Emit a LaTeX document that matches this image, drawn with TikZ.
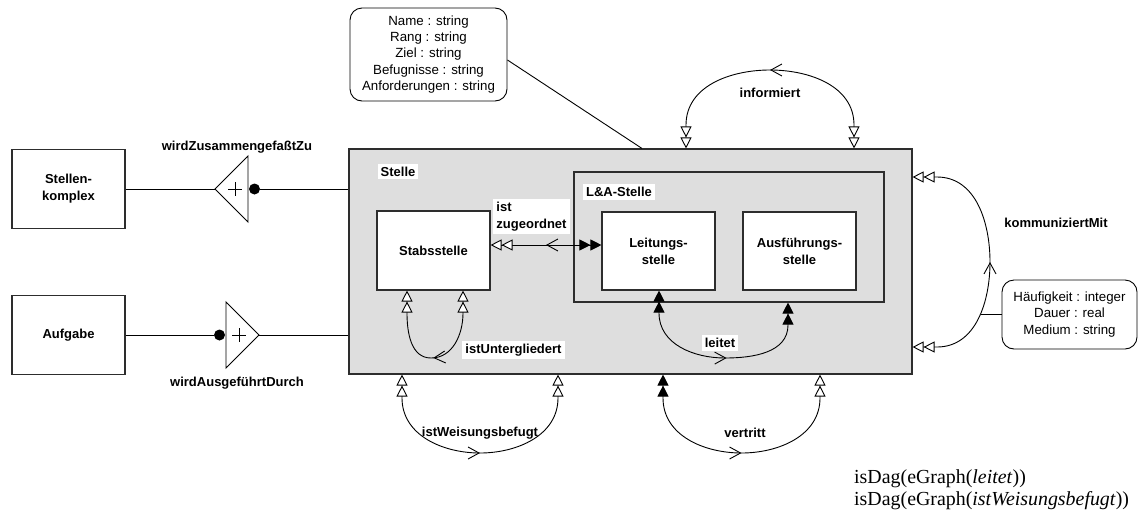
\documentclass[tikz,border=0pt]{standalone}
\usepackage{fontspec}
\setmainfont{Liberation Sans}
\newfontfamily\constrfont{Liberation Serif}
\usetikzlibrary{arrows.meta,decorations.markings}

\definecolor{stellegray}{RGB}{222,222,222}
\definecolor{frame}{RGB}{45,45,45}

\begin{document}
\begin{tikzpicture}[x=1pt,y=1pt,
  lbl/.style={font=\fontsize{13}{17}\selectfont\bfseries, inner sep=3pt},
  wlbl/.style={lbl, fill=white},
  entity/.style={draw=frame, line width=1.1pt, fill=white, inner sep=0pt, align=center,
    minimum width=113pt, minimum height=79pt, font=\fontsize{13}{17}\selectfont\bfseries},
  attrbox/.style={draw, line width=0.9pt, rounded corners=12pt, fill=white, align=center,
    font=\fontsize{13.3}{16.3}\selectfont, inner sep=0pt},
  conn/.style={line width=0.9pt},
  constr/.style={anchor=base west, inner sep=0pt, font=\constrfont\fontsize{19.9}{22}\selectfont},
  ww/.style={{Triangle[length=11pt,width=11pt,fill=white]Triangle[length=11pt,width=11pt,fill=white]}-{Triangle[length=11pt,width=11pt,fill=white]Triangle[length=11pt,width=11pt,fill=white]}},
  bw/.style={{Triangle[length=11pt,width=11pt]Triangle[length=11pt,width=11pt]}-{Triangle[length=11pt,width=11pt,fill=white]Triangle[length=11pt,width=11pt,fill=white]}},
  bb/.style={{Triangle[length=11pt,width=11pt]Triangle[length=11pt,width=11pt]}-{Triangle[length=11pt,width=11pt]Triangle[length=11pt,width=11pt]}},
  midarrow/.style={postaction={decorate, decoration={markings,
    mark=at position #1 with {\arrow{Straight Barb[length=11pt,width=12pt]}}}}},
]
\useasboundingbox (0,0) rectangle (1142,-509);

% outer classes
\node[entity] (skomplex) at (68.5,-189) {Stellen-\\komplex};
\node[entity] (aufgabe) at (68.5,-335) {Aufgabe};

% Stelle with its sub classes
\node[draw=frame, line width=1.1pt, fill=stellegray, minimum width=563pt, minimum height=225pt, inner sep=0pt] (stelle) at (630.5,-261.5) {};
\node[draw=frame, line width=1.1pt, fill=stellegray, minimum width=310pt, minimum height=130pt, inner sep=0pt] (la) at (729,-237) {};
\node[entity] (stab) at (433.5,-250.5) {Stabsstelle};
\node[entity, minimum height=78pt] (leit) at (658.5,-251) {Leitungs-\\stelle};
\node[entity, minimum height=78pt] (ausf) at (799.5,-251) {Ausführungs-\\stelle};

\node[wlbl] (stellelbl) at (398,-171.5) {Stelle};
\node[wlbl] (lalbl) at (619,-192) {L\&A-Stelle};
\node[wlbl, align=left] (zuglbl) at (531.5,-216.5) {ist\\zugeordnet};
\node[wlbl] (untlbl) at (513.5,-350) {istUntergliedert};
\node[wlbl] (leitlbl) at (720,-343) {leitet};

% attribute boxes
\node[attrbox, minimum width=157pt, minimum height=93pt] (attrS) at (428.5,-54.5)
  {Name : string\\Rang : string\\Ziel : string\\Befugnisse : string\\Anforderungen : string};
\node[attrbox, minimum width=135pt, minimum height=69pt] (attrK) at (1069.5,-314.5)
  {Häufigkeit : integer\\Dauer : real\\Medium : string};
\draw[conn] ([yshift=-5.5pt]attrS.east) -- (stelle.north -| 642,0);

% aggregation wirdZusammengefasstZu
\coordinate (t1tip) at (215,-189);
\draw[conn, fill=white] (t1tip) -- (248,-156) -- (248,-222) -- cycle;
\draw[conn] (228,-189) -- (242,-189) (235,-182) -- (235,-196);
\node[circle, fill, inner sep=0pt, minimum size=11pt] (c1) at (254.5,-189) {};
\draw[conn] (skomplex.east) -- (t1tip);
\draw[conn] (c1.east) -- (stelle.west |- c1);
\node[lbl] (zuslbl) at (237,-147) {wirdZusammengefaßtZu};

% aggregation wirdAusgefuehrtDurch
\coordinate (t2tip) at (259,-335);
\draw[conn, fill=white] (226,-302) -- (t2tip) -- (226,-368) -- cycle;
\draw[conn] (232,-335) -- (246,-335) (239,-328) -- (239,-342);
\node[circle, fill, inner sep=0pt, minimum size=11pt] (c2) at (219.5,-335) {};
\draw[conn] (aufgabe.east) -- (c2.west);
\draw[conn] (t2tip) -- (stelle.west |- t2tip);
\node[lbl] (auslbl) at (237,-383) {wirdAusgeführtDurch};

% informiert
\draw[conn, ww, midarrow=0.5] (stelle.north -| 854,0) -- (854,-125)
  to[out=90,in=0] (770,-70) to[out=180,in=90] (686,-125) -- (stelle.north -| 686,0);
\node[lbl] (inflbl) at (770,-93) {informiert};

% kommuniziertMit
\draw[conn, ww, midarrow=0.5] (stelle.east |- 0,-347) -- (937,-347)
  to[out=0,in=-90] (990,-262) to[out=90,in=0] (937,-177) -- (stelle.east |- 0,-177);
\node[lbl] (komlbl) at (1056,-223) {kommuniziertMit};
\coordinate (kc) at (981,-314);
\draw[conn] (kc) -- (attrK.west |- kc);

% ist zugeordnet
\coordinate (zy) at (0,-245);
\draw[conn, bw, midarrow=0.5] (leit.west |- zy) -- (stab.east |- zy);

% istUntergliedert
\draw[conn, ww, midarrow=0.5] (stab.south -| 463,0) -- (463,-313)
  to[out=-90,in=0] (431,-358) to[out=180,in=-90] (407,-313) -- (stab.south -| 407,0);

% leitet
\draw[conn, bb, midarrow=0.53] (leit.south -| 659,0) -- (659,-313)
  to[out=-90,in=180] (725,-358) to[out=0,in=-90] (788,-325) -- (la.south -| 788,0);

% istWeisungsbefugt
\draw[conn, ww, midarrow=0.5] (stelle.south -| 402,0) -- (402,-398)
  to[out=-90,in=180] (480,-453) to[out=0,in=-90] (558,-398) -- (stelle.south -| 558,0);
\node[lbl] (weislbl) at (480,-433) {istWeisungsbefugt};

% vertritt
\draw[conn, bw, midarrow=0.5] (stelle.south -| 663,0) -- (663,-398)
  to[out=-90,in=180] (741.5,-453) to[out=0,in=-90] (820,-398) -- (stelle.south -| 820,0);
\node[lbl] (vertlbl) at (745,-433) {vertritt};

% constraints
\node[constr] (con1) at (854,-483) {isDag(eGraph(\textit{leitet}))};
\node[constr] (con2) at (854,-505) {isDag(eGraph(\textit{istWeisungsbefugt}))};
\end{tikzpicture}
\end{document}
